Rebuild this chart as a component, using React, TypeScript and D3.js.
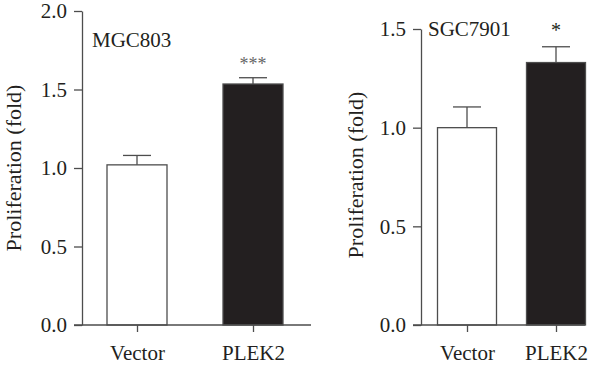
import React, { useRef, useEffect } from "react";
import * as d3 from "d3";

// group labels and values
const groups = ["Vector", "PLEK2"];
const mgcMeans = [1.02, 1.535];
const mgcErrors = [0.06, 0.04];
const mgcStars = ["", "***"];
const sgcMeans = [1.0, 1.33];
const sgcErrors = [0.105, 0.08];
const sgcStars = ["", "*"];
const mgcTicks = [0, 0.5, 1.0, 1.5, 2.0];
const sgcTicks = [0, 0.5, 1.0, 1.5];

const FONT = "'Liberation Serif', 'Times New Roman', serif";
const INK = "#231f20";
const AXIS = "#4d4d4d";

type Panel = {
  name: string;
  means: number[];
  errors: number[];
  stars: string[];
  ticks: number[];
  yMax: number;
  top: number;
  axisX: number;
  axisEnd: number;
  centers: [number, number];
  barWidth: number;
  nameX: number;
  nameY: number;
  titleX: number;
  titleY: number;
};

export default function App() {
  const svgRef = useRef<SVGSVGElement>(null);

  useEffect(() => {
    document.body.style.margin = "0";
    const width = 600;
    const height = 370;
    const baseY = 325;

    const svg = d3.select(svgRef.current)
      .attr("width", width)
      .attr("height", height)
      .attr("viewBox", [0, 0, width, height].join(" "));
    svg.selectAll("*").remove();
    svg.append("rect").attr("width", width).attr("height", height).attr("fill", "#fff");

    const panels: Panel[] = [
      {
        name: "MGC803", means: mgcMeans, errors: mgcErrors, stars: mgcStars, ticks: mgcTicks,
        yMax: 2.0, top: 11, axisX: 82, axisEnd: 311, centers: [137, 253], barWidth: 60,
        nameX: 92, nameY: 47, titleX: 21, titleY: 168,
      },
      {
        name: "SGC7901", means: sgcMeans, errors: sgcErrors, stars: sgcStars, ticks: sgcTicks,
        yMax: 1.5, top: 29, axisX: 421, axisEnd: 585, centers: [467, 556], barWidth: 59,
        nameX: 428, nameY: 36, titleX: 363, titleY: 175,
      },
    ];

    panels.forEach(p => {
      const g = svg.append("g");

      const y = d3.scaleLinear().domain([0, p.yMax]).range([baseY, p.top]);
      const x = d3.scalePoint<string>().domain(groups).range(p.centers);

      // bars
      g.selectAll("rect.bar")
        .data(groups)
        .join("rect")
        .attr("class", "bar")
        .attr("x", d => x(d)! - p.barWidth / 2)
        .attr("width", p.barWidth)
        .attr("y", (d, i) => y(p.means[i]))
        .attr("height", (d, i) => baseY - y(p.means[i]))
        .attr("fill", (d, i) => (i === 0 ? "#fff" : INK))
        .attr("stroke", AXIS)
        .attr("stroke-width", 1.3);

      // error bars (upper only)
      groups.forEach((d, i) => {
        const cx = x(d)!;
        const yt = y(p.means[i] + p.errors[i]);
        g.append("line")
          .attr("x1", cx).attr("x2", cx)
          .attr("y1", y(p.means[i])).attr("y2", yt)
          .attr("stroke", AXIS).attr("stroke-width", 1.3);
        g.append("line")
          .attr("x1", cx - 14).attr("x2", cx + 14)
          .attr("y1", yt).attr("y2", yt)
          .attr("stroke", AXIS).attr("stroke-width", 1.3);
        if (p.stars[i]) {
          g.append("text")
            .attr("x", cx)
            .attr("y", yt - (p.stars[i].length > 1 ? 8 : 10))
            .attr("text-anchor", "middle")
            .attr("font-family", FONT)
            .attr("font-size", p.stars[i].length > 1 ? 18 : 20)
            .attr("fill", p.stars[i].length > 1 ? "#666" : INK)
            .text(p.stars[i]);
        }
      });

      // y axis
      g.append("g")
        .attr("transform", `translate(${p.axisX},0)`)
        .call(d3.axisLeft(y).tickValues(p.ticks).tickFormat(d3.format(".1f")).tickSize(8).tickPadding(7).tickSizeOuter(0))
        .call(a => a.select(".domain").attr("stroke", AXIS).attr("stroke-width", 1.3))
        .call(a => a.selectAll(".tick line").attr("stroke", AXIS).attr("stroke-width", 1.3))
        .call(a => a.selectAll(".tick text").attr("font-family", FONT).attr("font-size", 21).attr("fill", INK));

      // x axis baseline
      g.append("line")
        .attr("x1", p.axisX - 8).attr("x2", p.axisEnd)
        .attr("y1", baseY).attr("y2", baseY)
        .attr("stroke", AXIS).attr("stroke-width", 1.3);

      g.append("g")
        .attr("transform", `translate(0,${baseY})`)
        .call(d3.axisBottom(x).tickSize(7).tickPadding(13))
        .call(a => a.select(".domain").remove())
        .call(a => a.selectAll(".tick line").attr("stroke", AXIS).attr("stroke-width", 1.3))
        .call(a => a.selectAll(".tick text").attr("font-family", FONT).attr("font-size", 21).attr("fill", INK));

      // cell line label
      g.append("text")
        .attr("x", p.nameX).attr("y", p.nameY)
        .attr("font-family", FONT).attr("font-size", 21).attr("fill", INK)
        .text(p.name);

      // y title
      g.append("text")
        .attr("transform", `translate(${p.titleX},${p.titleY}) rotate(-90)`)
        .attr("text-anchor", "middle")
        .attr("font-family", FONT).attr("font-size", 22).attr("fill", INK)
        .text("Proliferation (fold)");
    });
  }, []);

  return <svg ref={svgRef} style={{ display: "block" }}></svg>;
}
